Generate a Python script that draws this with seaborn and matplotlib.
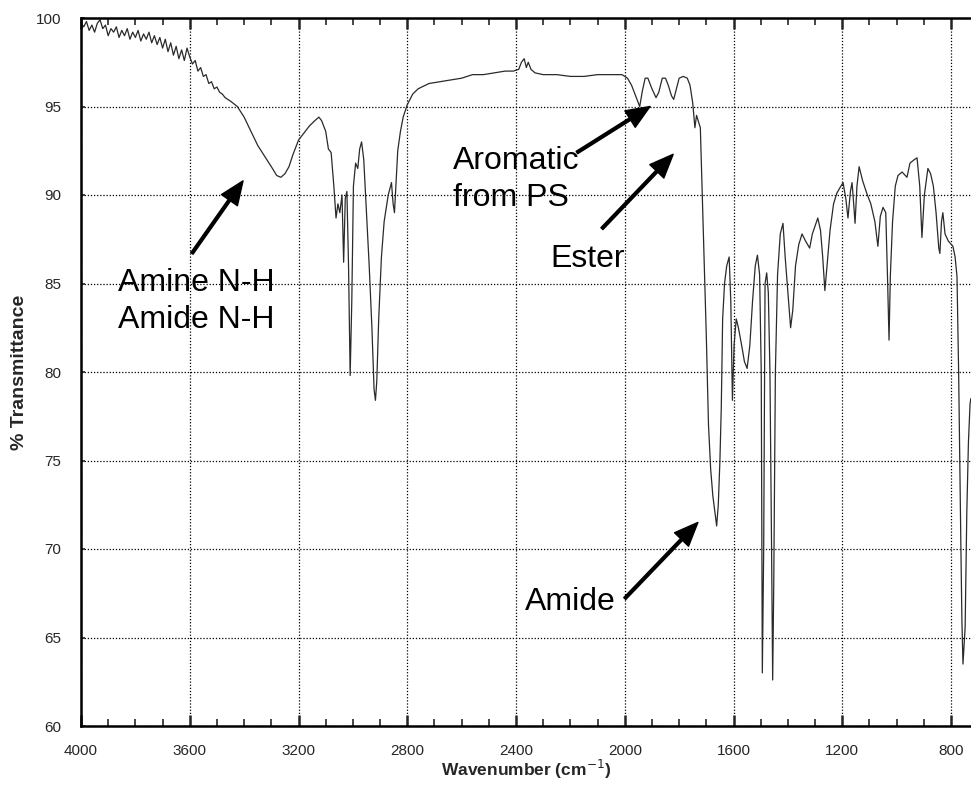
import matplotlib
matplotlib.use("Agg")
import matplotlib.pyplot as plt
import seaborn as sns
import pandas as pd

sns.set_style("ticks")
plt.rcParams['font.family'] = ['Liberation Sans', 'DejaVu Sans']

wavenumber = [
    4000, 3990, 3980, 3970, 3960, 3950, 3940, 3930, 3920, 3910, 3900, 3890, 3880, 3870, 3860,
    3850, 3840, 3830, 3820, 3810, 3800, 3790, 3780, 3770, 3760, 3750, 3740, 3730, 3720, 3710,
    3700, 3690, 3680, 3670, 3660, 3650, 3640, 3630, 3620, 3610, 3600, 3590, 3580, 3570, 3560,
    3550, 3540, 3530, 3520, 3510, 3500, 3490, 3480, 3470, 3460, 3450, 3425, 3400, 3375, 3350,
    3325, 3300, 3280, 3265, 3250, 3235, 3220, 3200, 3180, 3160, 3140, 3125, 3115, 3100, 3090,
    3080, 3070, 3062, 3055, 3048, 3040, 3034, 3028, 3022, 3016, 3010, 3004, 2998, 2990, 2982,
    2975, 2968, 2960, 2950, 2940, 2930, 2922, 2917, 2912, 2905, 2895, 2885, 2870, 2858, 2852,
    2847, 2842, 2835, 2825, 2815, 2800, 2780, 2760, 2720, 2680, 2640, 2600, 2560, 2520, 2480,
    2440, 2410, 2390, 2380, 2370, 2362, 2355, 2345, 2330, 2300, 2250, 2200, 2150, 2100, 2050,
    2010, 1990, 1975, 1960, 1945, 1935, 1925, 1915, 1900, 1885, 1875, 1862, 1850, 1840, 1828,
    1820, 1810, 1800, 1785, 1770, 1760, 1750, 1742, 1736, 1730, 1722, 1715, 1708, 1700, 1692,
    1684, 1676, 1668, 1662, 1656, 1650, 1645, 1640, 1633, 1625, 1616, 1610, 1604, 1598, 1590,
    1582, 1570, 1560, 1550, 1540, 1530, 1520, 1512, 1504, 1498, 1494, 1489, 1484, 1478, 1472,
    1466, 1460, 1456, 1452, 1446, 1438, 1428, 1418, 1410, 1400, 1390, 1382, 1372, 1360, 1348,
    1335, 1320, 1310, 1290, 1280, 1272, 1264, 1256, 1245, 1232, 1220, 1209, 1197, 1187, 1179,
    1170, 1164, 1158, 1153, 1146, 1138, 1125, 1110, 1095, 1080, 1069, 1060, 1050, 1040, 1033,
    1028, 1023, 1015, 1005, 995, 980, 962, 951, 935, 925, 915, 907, 898, 885, 875,
    865, 855, 845, 841, 835, 830, 822, 810, 793, 785, 778, 772, 768, 764, 760,
    756, 752, 748, 742, 736, 730, 727,
]

transmittance = [
    99.7, 99.5, 99.8, 99.3, 99.6, 99.2, 99.7, 99.9, 99.4, 99.6, 99.0, 99.4, 99.2, 99.5, 98.9,
    99.3, 99.0, 99.4, 98.8, 99.2, 98.9, 99.3, 98.7, 99.1, 98.8, 99.2, 98.6, 99.0, 98.5, 98.9,
    98.3, 98.8, 98.1, 98.6, 97.9, 98.4, 97.7, 98.2, 97.6, 98.3, 97.8, 97.4, 97.6, 97.0, 97.2,
    96.7, 96.8, 96.3, 96.4, 96.0, 96.1, 95.8, 95.7, 95.5, 95.4, 95.3, 95.0, 94.4, 93.6, 92.8,
    92.2, 91.6, 91.1, 91.0, 91.2, 91.6, 92.3, 93.1, 93.5, 93.9, 94.2, 94.4, 94.2, 93.6, 92.6,
    92.4, 90.5, 88.7, 89.5, 89.0, 90.0, 86.2, 89.8, 90.2, 86.0, 79.8, 84.0, 90.5, 91.8, 91.5,
    92.6, 93.0, 92.0, 89.0, 86.0, 82.5, 79.0, 78.4, 79.5, 83.0, 86.5, 88.5, 90.0, 90.7, 89.5,
    89.0, 90.5, 92.5, 93.6, 94.4, 95.1, 95.7, 96.0, 96.3, 96.4, 96.5, 96.6, 96.8, 96.8, 96.9,
    97.0, 97.0, 97.1, 97.5, 97.7, 97.2, 97.5, 97.1, 96.9, 96.8, 96.8, 96.7, 96.7, 96.8, 96.8,
    96.8, 96.6, 96.2, 95.6, 95.0, 95.9, 96.6, 96.6, 96.0, 95.5, 95.8, 96.6, 96.6, 96.2, 95.6,
    95.4, 96.0, 96.6, 96.7, 96.6, 96.2, 95.2, 93.8, 94.5, 94.2, 93.8, 90.0, 86.0, 82.0, 77.0,
    74.5, 73.0, 72.0, 71.3, 72.5, 75.0, 78.0, 83.0, 85.0, 86.0, 86.5, 84.0, 78.4, 81.5, 83.0,
    82.5, 81.5, 80.6, 80.2, 81.5, 84.0, 86.0, 86.6, 85.5, 80.0, 63.0, 70.0, 85.0, 85.6, 84.5,
    80.0, 70.0, 62.6, 68.0, 80.0, 85.5, 87.8, 88.4, 86.5, 84.5, 82.5, 83.5, 86.0, 87.2, 87.8,
    87.4, 87.0, 87.8, 88.7, 88.0, 86.5, 84.6, 86.0, 88.0, 89.5, 90.1, 90.4, 90.7, 89.8, 88.7,
    90.2, 90.7, 89.5, 88.4, 90.5, 91.6, 90.8, 90.1, 89.5, 88.5, 87.1, 88.8, 89.3, 89.0, 85.0,
    81.8, 85.5, 88.5, 90.5, 91.1, 91.3, 91.0, 91.8, 92.0, 92.1, 90.5, 87.6, 90.0, 91.5, 91.2,
    90.5, 89.0, 87.0, 86.7, 88.5, 89.0, 87.8, 87.4, 87.1, 86.5, 85.4, 80.0, 75.0, 70.5, 66.0,
    63.5, 64.5, 65.6, 72.0, 76.0, 78.2, 78.5,
]

y_ticks = [60, 65, 70, 75, 80, 85, 90, 95, 100]
x_ticks = [4000, 3600, 3200, 2800, 2400, 2000, 1600, 1200, 800]

labels = ["Amine N-H\nAmide N-H", "Aromatic\nfrom PS", "Ester", "Amide"]
label_pos = [(3864, 84.0), (2632, 90.9), (2275, 86.4), (2367, 67.0)]
arrow_tail = [(3592, 86.7), (2176, 92.4), (2084, 88.1), (2000, 67.2)]
arrow_head = [(3404, 90.8), (1907, 95.0), (1822, 92.3), (1731, 71.5)]

df = pd.DataFrame({"wn": wavenumber, "T": transmittance})

fig = plt.figure(figsize=(9.71, 7.87), dpi=100)
ax = fig.add_axes([81/971, 61/787, 1 - 81/971, (726-18)/787])

sns.lineplot(data=df, x="wn", y="T", ax=ax, color="#2a2a2a", lw=0.9,
             sort=False, estimator=None)

ax.set_xlim(4000, 726.5)
ax.set_ylim(60, 100)
ax.set_xticks(x_ticks)
ax.set_xticks(list(range(3900, 700, -100)), minor=True)
ax.set_yticks(y_ticks)
ax.set_xticklabels([str(v) for v in x_ticks], fontsize=11)
ax.set_yticklabels([str(v) for v in y_ticks], fontsize=11)

ax.grid(True, which="major", linestyle=(0, (1, 1.5)), color="black", lw=0.9)
ax.tick_params(axis="x", which="major", direction="in", length=8, width=1.8,
               top=True, bottom=True, pad=13)
ax.tick_params(axis="x", which="minor", direction="in", length=5, width=1.2,
               top=True, bottom=True)
ax.tick_params(axis="y", which="major", direction="in", length=3, width=1.2,
               left=True, right=False, pad=14)

for side in ["left", "bottom", "top"]:
    ax.spines[side].set_linewidth(1.8)
    ax.spines[side].set_color("black")
ax.spines["right"].set_visible(False)

ax.set_xlabel("Wavenumber (cm$^{-1}$)", fontsize=12.5, fontweight="bold", labelpad=0)
ax.set_ylabel("% Transmittance", fontsize=14, fontweight="bold", labelpad=6)

for txt, (tx, ty) in zip(labels, label_pos):
    ax.text(tx, ty, txt, fontsize=23, ha="left", va="center", color="black",
            linespacing=1.3)

for tail, head in zip(arrow_tail, arrow_head):
    ax.annotate("", xy=head, xytext=tail,
                arrowprops=dict(facecolor="black", edgecolor="black", width=2.0,
                                headwidth=14, headlength=17, shrink=0.0))

fig.savefig("out.png", dpi=100)
